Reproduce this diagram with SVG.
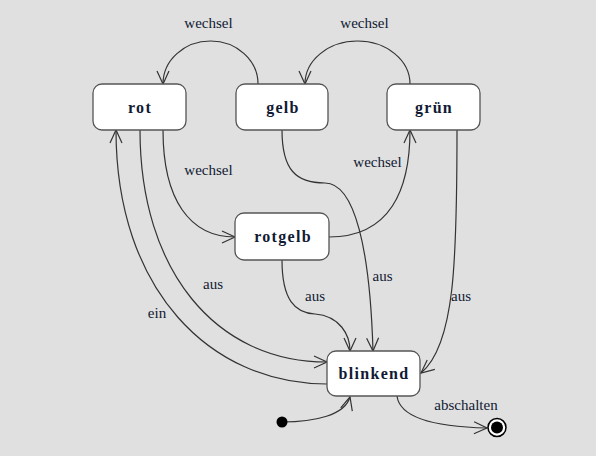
<svg xmlns="http://www.w3.org/2000/svg" width="596" height="456" viewBox="0 0 596 456">
<style>
.bg{fill:#e0e0e0}
.node rect{fill:#ffffff;stroke:#555555;stroke-width:1.3}
.node text{font-family:"Liberation Serif","Times New Roman",serif;font-weight:bold;font-size:16px;letter-spacing:1.3px;fill:#111a33;text-anchor:middle}
.edge{fill:none;stroke:#333333;stroke-width:1.2;marker-end:url(#arr)}
.lbl{font-family:"Liberation Serif","Times New Roman",serif;font-size:15px;fill:#111a33;text-anchor:middle}
</style>
<defs>
<marker id="arr" markerUnits="userSpaceOnUse" markerWidth="16" markerHeight="14" viewBox="0 0 16 14" refX="14" refY="7" orient="auto">
<path d="M1,1 L14,7 L1,13" fill="none" stroke="#333333" stroke-width="1.2"/>
</marker>
</defs>
<rect class="bg" x="0" y="0" width="596" height="456"/>
<g id="connectors">
<path class="edge" d="M258,84 A47.5,43 0 0 0 163,84"/>
<path class="edge" d="M410,84 A52.5,43 0 0 0 305,84"/>
<path class="edge" d="M163,130 C163,200 190,237 235,237"/>
<path class="edge" d="M329,237 C390,237 410,190 410,130"/>
<path class="edge" d="M282,130 C282,170 296,183 325,183 C355,183 370,250 373,351"/>
<path class="edge" d="M457,130 C457,260 455,345 421,373"/>
<path class="edge" d="M282,260 C282,300 295,313 315,314 C340,316 350,335 350,351"/>
<path class="edge" d="M140,130 C140,270 215,362 327,362"/>
<path class="edge" d="M327,384 C210,384 116,290 116,130"/>
<path class="edge" d="M282,422 C315,422 345,415 350,397"/>
<path class="edge" d="M397,396 C400,420 440,427 487,428"/>
</g>
<g id="labels">
<text class="lbl" x="208.5" y="28">wechsel</text>
<text class="lbl" x="364.5" y="28">wechsel</text>
<text class="lbl" x="208.5" y="175">wechsel</text>
<text class="lbl" x="377.5" y="167">wechsel</text>
<text class="lbl" x="213" y="289">aus</text>
<text class="lbl" x="157" y="318">ein</text>
<text class="lbl" x="315" y="301">aus</text>
<text class="lbl" x="382.5" y="281">aus</text>
<text class="lbl" x="461" y="301">aus</text>
<text class="lbl" x="466" y="410">abschalten</text>
</g>
<g id="rot" class="node"><rect x="93" y="84" width="93" height="46" rx="9"/><text x="140" y="113">rot</text></g>
<g id="gelb" class="node"><rect x="236" y="84" width="92" height="46" rx="9"/><text x="283" y="113">gelb</text></g>
<g id="gruen" class="node"><rect x="387" y="84" width="93" height="46" rx="9"/><text x="434" y="113">grün</text></g>
<g id="rotgelb" class="node"><rect x="235" y="213" width="94" height="47" rx="9"/><text x="283" y="242">rotgelb</text></g>
<g id="blinkend" class="node"><rect x="327" y="351" width="93" height="45" rx="9"/><text x="374" y="379">blinkend</text></g>
<g id="start"><circle cx="282" cy="422" r="5.5" fill="#000000"/></g>
<g id="end"><circle cx="497" cy="427.5" r="9" fill="#ffffff" stroke="#000000" stroke-width="1.5"/><circle cx="497" cy="427.5" r="6" fill="#000000"/></g>
</svg>
